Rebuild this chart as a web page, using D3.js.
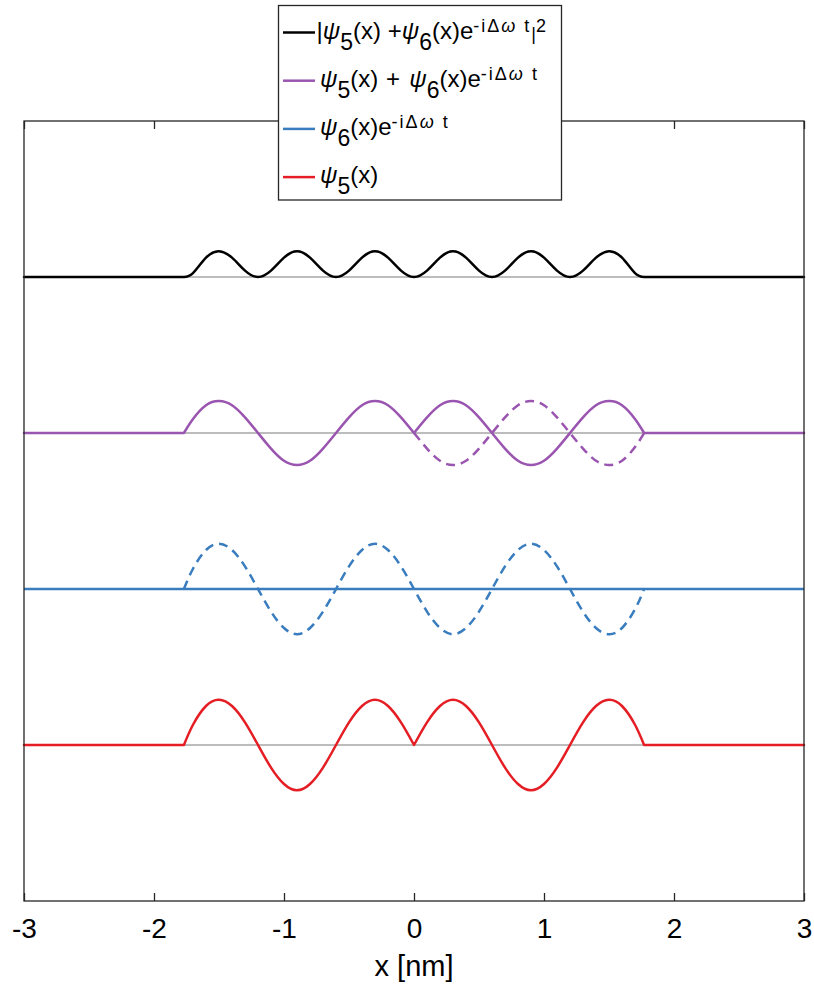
<!DOCTYPE html>
<html>
<head>
<meta charset="utf-8">
<script src="https://cdn.jsdelivr.net/npm/d3@7"></script>
<style>
  html, body { margin: 0; padding: 0; background: #fff; }
  svg { display: block; font-family: "Liberation Sans", Arial, Helvetica, sans-serif; }
  text { white-space: pre; }
</style>
</head>
<body>
<div id="chart"></div>
<script>
// x positions [nm] sampled inside the well
const xGrid = [-1.77, -1.7, -1.6, -1.5, -1.4, -1.3, -1.2, -1.1, -1.0, -0.9, -0.8, -0.7, -0.6, -0.5, -0.4, -0.3, -0.2, -0.1, 0,
               0.1, 0.2, 0.3, 0.4, 0.5, 0.6, 0.7, 0.8, 0.9, 1.0, 1.1, 1.2, 1.3, 1.4, 1.5, 1.6, 1.7, 1.77];
const xTicks = [-3, -2, -1, 0, 1, 2, 3];

// vertical offset of each trace (stacked)
const offsets = { density: 4, sum: 3, psi6: 2, psi5: 1 };

// |psi5 + psi6 e^{-i dw t}|^2
const densityVals = [0, 0.025, 0.124, 0.165, 0.124, 0.041, 0, 0.041, 0.124, 0.165, 0.124, 0.041, 0, 0.041, 0.124, 0.165, 0.124, 0.041, 0,
                     0.041, 0.124, 0.165, 0.124, 0.041, 0, 0.041, 0.124, 0.165, 0.124, 0.041, 0, 0.041, 0.124, 0.165, 0.124, 0.025, 0];
// psi5 + psi6 e^{-i dw t}  (solid part and dashed part)
const sumSolid = [0, 0.09, 0.178, 0.205, 0.178, 0.1, 0, -0.1, -0.178, -0.205, -0.178, -0.1, 0, 0.1, 0.178, 0.205, 0.178, 0.1, 0,
                  0.1, 0.178, 0.205, 0.178, 0.1, 0, -0.1, -0.178, -0.205, -0.178, -0.1, 0, 0.1, 0.178, 0.205, 0.178, 0.09, 0];
const sumDashed = [null, null, null, null, null, null, null, null, null, null, null, null, null, null, null, null, null, null, 0,
                   -0.1, -0.178, -0.205, -0.178, -0.1, 0, 0.1, 0.178, 0.205, 0.178, 0.1, 0, -0.1, -0.178, -0.205, -0.178, -0.09, 0];
// psi6 e^{-i dw t}
const psi6Dashed = [0, 0.13, 0.25, 0.29, 0.25, 0.145, 0, -0.145, -0.25, -0.29, -0.25, -0.145, 0, 0.145, 0.25, 0.29, 0.25, 0.145, 0,
                    -0.145, -0.25, -0.29, -0.25, -0.145, 0, 0.145, 0.25, 0.29, 0.25, 0.145, 0, -0.145, -0.25, -0.29, -0.25, -0.13, 0];
const psi6Solid = [0, 0];  // at x = -3 and 3
// psi5
const psi5Vals = [0, 0.13, 0.25, 0.29, 0.25, 0.145, 0, -0.145, -0.25, -0.29, -0.25, -0.145, 0, 0.145, 0.25, 0.29, 0.25, 0.145, 0,
                  0.145, 0.25, 0.29, 0.25, 0.145, 0, -0.145, -0.25, -0.29, -0.25, -0.145, 0, 0.145, 0.25, 0.29, 0.25, 0.13, 0];

const kinks = [-1.77, 0, 1.77];
const wellEdges = [-1.77, 1.77];

const legendRows = [
    { color: '#000000', parts: [['n', '|'], ['i', 'ψ'], ['sub', '5'], ['n', '(x) +'], ['i', 'ψ'], ['sub', '6'], ['n', '(x)e'],
                                ['sup', '-iΔ'], ['supi', 'ω'], ['sup', ' t'], ['bar', '|'], ['sup', '2']] },
    { color: '#9a55b0', parts: [['i', 'ψ'], ['sub', '5'], ['n', '(x)'], ['gap', ' + '], ['i', 'ψ'], ['sub', '6'], ['n', '(x)e'],
                                ['sup', '-iΔ'], ['supi', 'ω'], ['sup', ' t']] },
    { color: '#3a7dbf', parts: [['i', 'ψ'], ['sub', '6'], ['n', '(x)e'], ['sup', '-iΔ'], ['supi', 'ω'], ['sup', ' t']] },
    { color: '#e41e24', parts: [['i', 'ψ'], ['sub', '5'], ['n', '(x)']] }
];

const colors = { density: '#000000', sum: '#9a55b0', psi6: '#3a7dbf', psi5: '#e41e24' };

const width = 814, height = 984;
const margin = { top: 121, right: 10, bottom: 83, left: 24 };

const svg = d3.select('#chart').append('svg')
    .attr('width', width)
    .attr('height', height);

const x = d3.scaleLinear().domain([-3, 3]).range([margin.left, width - margin.right]);
const y = d3.scaleLinear().domain([0, 5]).range([height - margin.bottom, margin.top]);

// helpers
function toPoints(vals, base, withFlats) {
    let pts = xGrid.map((xv, i) => ({ x: xv, y: vals[i] })).filter(p => p.y !== null);
    if (withFlats) pts = [{ x: -3, y: 0 }, ...pts, { x: 3, y: 0 }];
    return pts.map(p => ({ x: p.x, y: p.y + base }));
}
function splitAt(pts, breaks) {
    const segs = [];
    let cur = [];
    pts.forEach(p => {
        cur.push(p);
        if (breaks.includes(p.x) && cur.length > 1) {
            segs.push(cur);
            cur = [p];
        }
    });
    if (cur.length > 1) segs.push(cur);
    return segs;
}

const lineNatural = d3.line().x(d => x(d.x)).y(d => y(d.y)).curve(d3.curveNatural);

const g = svg.append('g');

// thin zero lines
g.selectAll('.zero')
    .data(Object.values(offsets))
    .enter().append('line')
    .attr('x1', x(-3)).attr('x2', x(3))
    .attr('y1', d => y(d)).attr('y2', d => y(d))
    .attr('stroke', '#7a7a7a')
    .attr('stroke-width', 1);

function drawSegs(pts, breaks, color, dashed) {
    const d = splitAt(pts, breaks).map(s => lineNatural(s)).join('');
    g.append('path')
        .attr('d', d)
        .attr('fill', 'none')
        .attr('stroke', color)
        .attr('stroke-width', 2.5)
        .attr('stroke-linecap', dashed ? 'butt' : 'round')
        .attr('stroke-linejoin', 'round')
        .attr('stroke-dasharray', dashed ? '9,6' : null);
}

// psi5
drawSegs(toPoints(psi5Vals, offsets.psi5, true), kinks, colors.psi5, false);
// psi6
g.append('path')
    .attr('d', lineNatural([-3, 3].map((xv, i) => ({ x: xv, y: psi6Solid[i] + offsets.psi6 }))))
    .attr('fill', 'none').attr('stroke', colors.psi6).attr('stroke-width', 2.5);
drawSegs(toPoints(psi6Dashed, offsets.psi6, false), [], colors.psi6, true);
// sum
drawSegs(toPoints(sumSolid, offsets.sum, true), kinks, colors.sum, false);
drawSegs(toPoints(sumDashed, offsets.sum, false), [], colors.sum, true);
// density
drawSegs(toPoints(densityVals, offsets.density, true), wellEdges, colors.density, false);

// axes box
const axisColor = '#262626';
svg.append('rect')
    .attr('x', x(-3)).attr('y', y(5))
    .attr('width', x(3) - x(-3)).attr('height', y(0) - y(5))
    .attr('fill', 'none').attr('stroke', axisColor).attr('stroke-width', 1.3);

const bottomAxis = d3.axisBottom(x).tickValues(xTicks).tickSizeInner(-8).tickSizeOuter(0).tickPadding(17)
    .tickFormat(d => String(d));
const xAxisG = svg.append('g')
    .attr('transform', `translate(0,${y(0)})`)
    .call(bottomAxis);
xAxisG.select('.domain').remove();
xAxisG.selectAll('line').attr('stroke', axisColor).attr('stroke-width', 1.3);
xAxisG.selectAll('text').attr('font-size', 28).attr('fill', '#000')
    .attr('font-family', '"Liberation Sans", Arial, sans-serif');

const topAxis = d3.axisTop(x).tickValues(xTicks).tickSizeInner(-8).tickSizeOuter(0).tickFormat('');
const xTopG = svg.append('g')
    .attr('transform', `translate(0,${y(5)})`)
    .call(topAxis);
xTopG.select('.domain').remove();
xTopG.selectAll('line').attr('stroke', axisColor).attr('stroke-width', 1.3);

svg.append('text')
    .attr('x', (x(-3) + x(3)) / 2)
    .attr('y', 976)
    .attr('text-anchor', 'middle')
    .attr('font-size', 29)
    .attr('fill', '#000')
    .text('x [nm]');

// legend
const legend = svg.append('g');
legend.append('rect')
    .attr('x', 278.5).attr('y', 5.5)
    .attr('width', 283).attr('height', 194.5)
    .attr('fill', '#fff').attr('stroke', axisColor).attr('stroke-width', 1.3);

const rowY = i => 32.5 + i * 48.2;
const partStyle = {
    n:    { size: 24, shift: 0, italic: false, ls: 0 },
    gap:  { size: 24, shift: 0, italic: false, ls: 1.2 },
    i:    { size: 24, shift: 0, italic: true, ls: 0 },
    sub:  { size: 23, shift: 11, italic: false, ls: 0 },
    sup:  { size: 18, shift: -7, italic: false, ls: 2 },
    supi: { size: 18, shift: -7, italic: true, ls: 2 },
    bar:  { size: 18, shift: 1, italic: false, ls: 0 }
};

legendRows.forEach((row, i) => {
    legend.append('line')
        .attr('x1', 283).attr('x2', 315)
        .attr('y1', rowY(i)).attr('y2', rowY(i))
        .attr('stroke', row.color).attr('stroke-width', 2.5);
    const t = legend.append('text')
        .attr('x', i === 0 ? 316.5 : 320).attr('y', rowY(i) + 6)
        .attr('fill', '#000');
    let cur = 0;
    row.parts.forEach(([kind, str]) => {
        const st = partStyle[kind];
        t.append('tspan')
            .attr('dy', st.shift - cur)
            .attr('font-size', st.size)
            .attr('font-style', st.italic ? 'italic' : 'normal')
            .attr('letter-spacing', st.ls)
            .text(str);
        cur = st.shift;
    });
});
</script>
</body>
</html>
